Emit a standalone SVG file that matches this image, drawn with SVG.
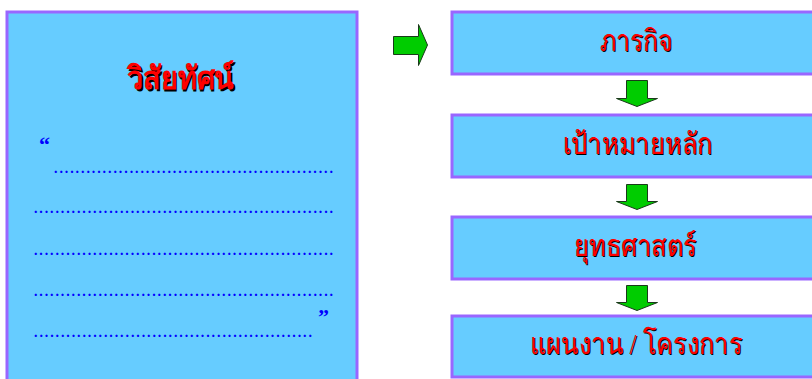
<svg xmlns="http://www.w3.org/2000/svg" width="812" height="379" viewBox="0 0 812 379">
<defs>
<style>
.box{fill:#66CCFF;stroke:#9966FF;stroke-width:3}
.arrow{fill:#00CC00;stroke:#1a3a1a;stroke-width:1}
.lbl{font-family:"Liberation Serif","DejaVu Serif",serif;font-size:30px;text-anchor:middle}
.red{fill:#FF0000}
.sh{fill:#000000}
.title{font-family:"Liberation Sans","DejaVu Sans",sans-serif;font-size:32px;font-weight:bold;text-anchor:middle}
.dots{font-family:"Liberation Serif",serif;font-size:14px;font-weight:bold;fill:#0000FF}
.q{font-family:"Liberation Serif",serif;font-size:22px;font-weight:bold;fill:#0000FF}
</style>
</defs>
<g id="vision">
<rect class="box" x="7" y="12" width="350" height="380"/>
<text class="title sh" x="182" y="90.5" textLength="107" lengthAdjust="spacingAndGlyphs">วิสัยทัศน์</text>
<text class="title red" x="180.5" y="89" textLength="107" lengthAdjust="spacingAndGlyphs">วิสัยทัศน์</text>
<text class="q" x="39" y="152">“</text>
<text class="dots" x="54" y="173" textLength="279" lengthAdjust="spacing">....................................................</text>
<text class="dots" x="34" y="213" textLength="299" lengthAdjust="spacing">........................................................</text>
<text class="dots" x="34" y="255" textLength="299" lengthAdjust="spacing">........................................................</text>
<text class="dots" x="34" y="296" textLength="299" lengthAdjust="spacing">........................................................</text>
<text class="q" x="318" y="324">”</text>
<text class="dots" x="34" y="337" textLength="278" lengthAdjust="spacing">....................................................</text>
</g>
<g id="mission">
<rect class="box" x="452" y="12" width="380" height="62"/>
<text class="lbl sh" x="637.5" y="52" textLength="73" lengthAdjust="spacingAndGlyphs">ภารกิจ</text>
<text class="lbl red" x="636.5" y="51" textLength="73" lengthAdjust="spacingAndGlyphs">ภารกิจ</text>
</g>
<g id="goals">
<rect class="box" x="452" y="115" width="380" height="62"/>
<text class="lbl sh" x="638.5" y="155" textLength="149" lengthAdjust="spacingAndGlyphs">เป้าหมายหลัก</text>
<text class="lbl red" x="637.5" y="154" textLength="149" lengthAdjust="spacingAndGlyphs">เป้าหมายหลัก</text>
</g>
<g id="strategy">
<rect class="box" x="452" y="217" width="380" height="62"/>
<text class="lbl sh" x="636" y="257" textLength="122" lengthAdjust="spacingAndGlyphs">ยุทธศาสตร์</text>
<text class="lbl red" x="635" y="256" textLength="122" lengthAdjust="spacingAndGlyphs">ยุทธศาสตร์</text>
</g>
<g id="plans">
<rect class="box" x="452" y="316" width="380" height="61"/>
<text class="lbl sh" x="637" y="355" textLength="212" lengthAdjust="spacingAndGlyphs">แผนงาน / โครงการ</text>
<text class="lbl red" x="636" y="354" textLength="212" lengthAdjust="spacingAndGlyphs">แผนงาน / โครงการ</text>
</g>
<g id="connectors">
<path class="arrow" d="M393.5,36.5 H418.5 V24.5 L427.5,45 L418.5,65.5 V54.5 H393.5 Z"/>
<path class="arrow" d="M626.5,80.5 H647.5 V98.5 H657.5 L637,106.5 L616.5,98.5 H626.5 Z"/>
<path class="arrow" d="M626.5,184.5 H647.5 V201.5 H657.5 L637,209.5 L616.5,201.5 H626.5 Z"/>
<path class="arrow" d="M626.5,285.5 H647.5 V302.5 H657.5 L637,310.5 L616.5,302.5 H626.5 Z"/>
</g>
</svg>
